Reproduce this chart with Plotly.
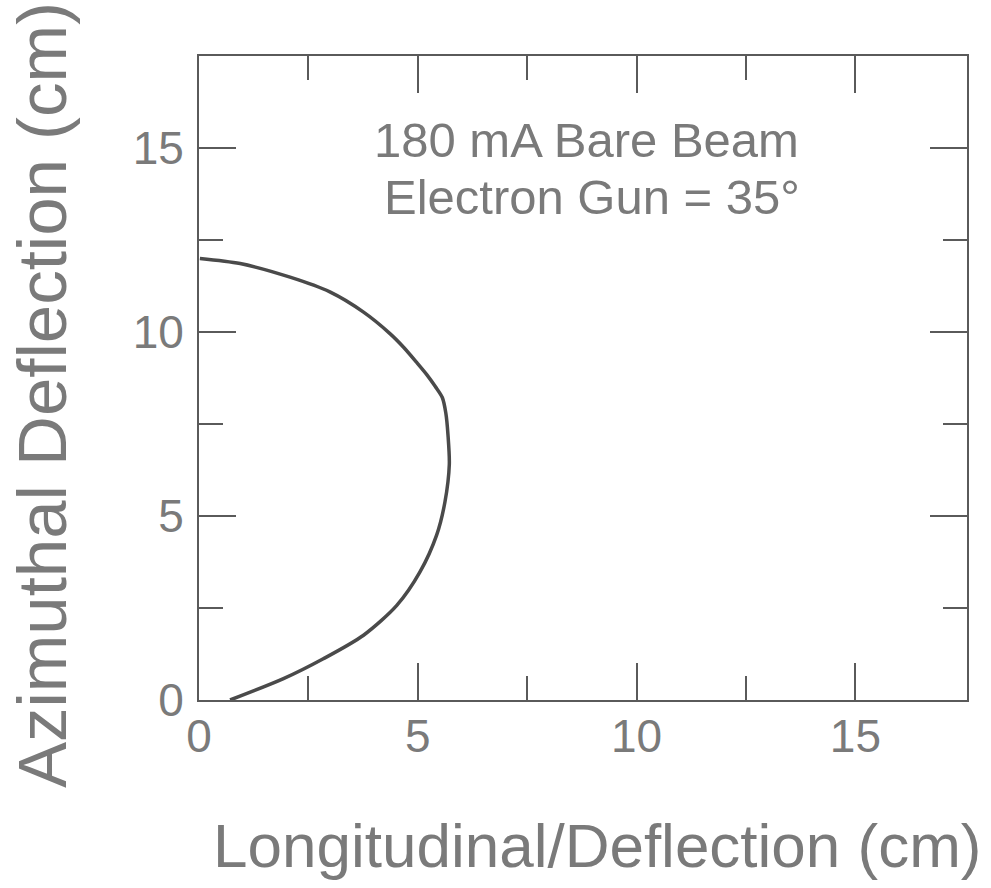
import plotly.graph_objects as go

# Beam trajectory: longitudinal vs azimuthal deflection (cm)
longitudinal_cm = [0.71, 1.93, 2.84, 3.76, 4.52, 5.05, 5.43, 5.62, 5.72, 5.69,
                   5.64, 5.56, 5.40, 5.20, 4.97, 4.68, 4.37, 3.76, 2.99, 2.08,
                   0.94, 0.02]
azimuthal_cm = [0.00, 0.58, 1.12, 1.76, 2.57, 3.48, 4.48, 5.38, 6.40, 7.20,
                7.80, 8.22, 8.52, 8.85, 9.18, 9.58, 9.95, 10.54, 11.09, 11.49,
                11.86, 12.00]

x_title = "Longitudinal/Deflection (cm)"
y_title = "Azimuthal Deflection (cm)"
note_lines = ["180 mA Bare Beam", "Electron Gun = 35°"]

X_RANGE = [0, 17.55]
Y_RANGE = [0, 17.5]
MINOR_TICKS = [2.5, 7.5, 12.5]

FONT = "Liberation Sans, Arial, Helvetica, sans-serif"
TEXT_COLOR = "#7a7a7a"
AXIS_COLOR = "#5a5a5a"

fig = go.Figure()
fig.add_trace(go.Scatter(
    x=longitudinal_cm, y=azimuthal_cm, mode="lines",
    line=dict(color="#4a4a4a", width=3.5, shape="spline", smoothing=0.8),
    showlegend=False, hoverinfo="skip", cliponaxis=False,
))

tick_font = dict(family=FONT, size=46, color=TEXT_COLOR)

# Boxed axes: long labelled ticks every 5 cm, short ticks halfway between
axis_common = dict(
    showgrid=False, zeroline=False,
    showline=True, linecolor=AXIS_COLOR, linewidth=2, mirror="ticks",
    ticks="inside", ticklen=37, tickwidth=2, tickcolor=AXIS_COLOR,
    tickmode="linear", tick0=0, dtick=5, tickfont=tick_font,
    minor=dict(ticks="inside", ticklen=24, tickwidth=2, tickcolor=AXIS_COLOR,
               tickmode="array", tickvals=MINOR_TICKS),
)
fig.update_xaxes(range=X_RANGE, ticklabelstandoff=-5, **axis_common)
fig.update_yaxes(range=Y_RANGE, ticklabelstandoff=4, **axis_common)

annotations = [
    dict(text=note_lines[0], x=586, y=140),
    dict(text=note_lines[1], x=592, y=197),
]
for a in annotations:
    fig.add_annotation(
        text=a["text"], xref="paper", yref="paper",
        x=(a["x"] - 199) / (967 - 199), y=(700 - a["y"]) / (700 - 56),
        xanchor="center", yanchor="middle", showarrow=False,
        font=dict(family=FONT, size=49, color=TEXT_COLOR),
    )

# Axis titles placed as free annotations
fig.add_annotation(
    text=x_title, xref="paper", yref="paper",
    x=(597 - 199) / (967 - 199), y=(700 - 845) / (700 - 56),
    xanchor="center", yanchor="middle", showarrow=False,
    font=dict(family=FONT, size=62, color=TEXT_COLOR),
)
fig.add_annotation(
    text=y_title, xref="paper", yref="paper", textangle=-90,
    x=(42 - 199) / (967 - 199), y=(700 - 395) / (700 - 56),
    xanchor="center", yanchor="middle", showarrow=False,
    font=dict(family=FONT, size=69, color=TEXT_COLOR),
)

fig.update_layout(
    width=991, height=888,
    margin=dict(l=199, r=24, t=56, b=188),
    paper_bgcolor="white", plot_bgcolor="white",
)

fig.write_html("out.html")
